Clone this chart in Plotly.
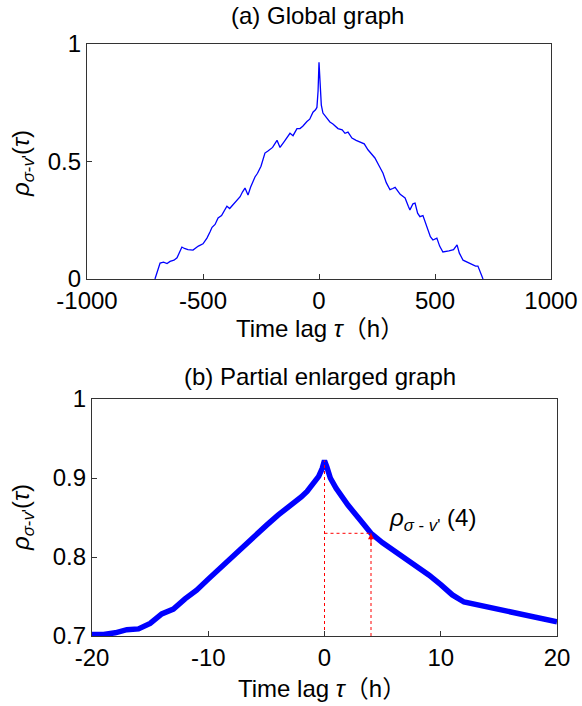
import plotly.graph_objects as go

# ---------- data ----------
TAU_A = [-707, -695, -685, -670, -655, -642, -625, -612, -600, -591, -580, -565, -543, -520, -500,
         -483, -470, -461, -448, -435, -420, -410, -397, -385, -371, -355, -340, -330, -319, -306,
         -295, -276, -265, -250, -240, -233, -220, -200, -181, -168, -150, -125, -112, -95, -82,
         -70, -52, -40, -26, -15, -9, -4, 0, 4, 10, 17, 30, 47, 60, 82, 100, 112, 125, 135, 142,
         160, 177, 195, 211, 225, 241, 260, 276, 290, 306, 318, 328, 350, 371, 385, 392, 405, 414,
         425, 435, 448, 465, 480, 491, 508, 520, 534, 560, 580, 595, 605, 621, 640, 659, 675, 685,
         695, 707]
RHO_A = [0.0, 0.04, 0.068, 0.072, 0.066, 0.075, 0.08, 0.09, 0.12, 0.136, 0.13, 0.125, 0.123, 0.14, 0.15,
         0.174, 0.20, 0.22, 0.232, 0.26, 0.27, 0.29, 0.31, 0.30, 0.315, 0.33, 0.35, 0.37, 0.387, 0.357,
         0.39, 0.434, 0.45, 0.48, 0.51, 0.536, 0.545, 0.56, 0.59, 0.56, 0.585, 0.62, 0.61, 0.64, 0.64,
         0.65, 0.67, 0.68, 0.71, 0.72, 0.73, 0.80, 0.922, 0.82, 0.74, 0.706, 0.69, 0.668, 0.66, 0.64, 0.635,
         0.62, 0.625, 0.61, 0.60, 0.59, 0.583, 0.575, 0.55, 0.535, 0.515, 0.48, 0.45, 0.41, 0.38, 0.385,
         0.39, 0.36, 0.345, 0.31, 0.294, 0.32, 0.323, 0.28, 0.265, 0.27, 0.22, 0.18, 0.166, 0.174, 0.14,
         0.115, 0.12, 0.125, 0.145, 0.11, 0.08, 0.07, 0.06, 0.055, 0.055, 0.03, 0.0]

TAU_B = [-20, -19, -18, -17, -16, -15.5, -15, -14, -13, -12, -11, -10, -9, -8, -7, -6, -5, -4, -3,
         -2, -1.5, -1, -0.5, -0.2, 0, 0.2, 0.5, 1, 1.5, 2, 3, 4, 5, 6, 7, 8, 9, 10, 11, 12, 13, 14, 15,
         16, 17, 18, 19, 20]
RHO_B = [0.702, 0.702, 0.704, 0.708, 0.709, 0.712, 0.716, 0.728, 0.734, 0.747, 0.758, 0.772, 0.786,
         0.800, 0.812, 0.826, 0.840, 0.853, 0.864, 0.876, 0.883, 0.892, 0.902, 0.912, 0.922, 0.914,
         0.900, 0.887, 0.876, 0.866, 0.848, 0.830, 0.818, 0.808, 0.797, 0.787, 0.777, 0.765, 0.752,
         0.743, 0.740, 0.737, 0.734, 0.731, 0.728, 0.724, 0.721, 0.718]

XTICKS_A = [-1000, -500, 0, 500, 1000]
XTICKTEXT_A = ["-1000", "-500", "0", "500", "1000"]
YTICKS_A = [0, 0.5, 1]
YTICKTEXT_A = ["0", "0.5", "1"]
XTICKS_B = [-20, -10, 0, 10, 20]
XTICKTEXT_B = ["-20", "-10", "0", "10", "20"]
YTICKS_B = [0.7, 0.8, 0.9, 1]
YTICKTEXT_B = ["0.7", "0.8", "0.9", "1"]

MARK_TAU = 4
TITLE_A = "(a) Global graph"
TITLE_B = "(b) Partial enlarged graph"
XTITLE = "Time lag <i>τ</i>（h）"
YTITLE = "<i>ρ</i><sub><i>σ</i>-<i>v</i>'</sub>(<i>τ</i>)"
LABEL_B = "<i>ρ</i><sub><i>σ</i> - <i>v</i>'</sub> (4)"

FONT = "Liberation Sans, Arial, Noto Sans CJK SC, sans-serif"
FS = 24

peak_rho = RHO_B[TAU_B.index(0)]
mark_rho = RHO_B[TAU_B.index(MARK_TAU)]
ybase = 0.7

fig = go.Figure()
fig.add_trace(go.Scatter(x=TAU_A, y=RHO_A, mode="lines", line=dict(color="#0000ff", width=1.3),
                         xaxis="x", yaxis="y", showlegend=False, hoverinfo="skip"))
fig.add_trace(go.Scatter(x=TAU_B, y=RHO_B, mode="lines", line=dict(color="#0000ff", width=5.5),
                         xaxis="x2", yaxis="y2", showlegend=False, hoverinfo="skip"))
red = dict(color="#ff0000", width=1, dash="dot")
fig.add_trace(go.Scatter(x=[0, 0], y=[ybase, peak_rho], mode="lines", line=red,
                         xaxis="x2", yaxis="y2", showlegend=False, hoverinfo="skip"))
fig.add_trace(go.Scatter(x=[0, MARK_TAU], y=[mark_rho, mark_rho], mode="lines", line=red,
                         xaxis="x2", yaxis="y2", showlegend=False, hoverinfo="skip"))
fig.add_trace(go.Scatter(x=[MARK_TAU, MARK_TAU], y=[ybase, mark_rho], mode="lines", line=red,
                         xaxis="x2", yaxis="y2", showlegend=False, hoverinfo="skip"))

ax_common = dict(showline=True, linecolor="#333333", linewidth=1.2, mirror=True, ticks="inside",
                 ticklen=5, tickcolor="#333333", showgrid=False, zeroline=False, automargin=False,
                 tickfont=dict(family=FONT, size=FS, color="black"))

fig.update_layout(
    width=582, height=706, margin=dict(l=0, r=0, t=0, b=0, autoexpand=False),
    paper_bgcolor="white", plot_bgcolor="white",
    font=dict(family=FONT, size=FS, color="black"),
    xaxis=dict(domain=[87 / 582, 551 / 582], range=[-1000, 1000], tickvals=XTICKS_A,
               ticktext=XTICKTEXT_A, anchor="y", **ax_common),
    yaxis=dict(domain=[1 - 279 / 706, 1 - 44 / 706], range=[0, 1], tickvals=YTICKS_A,
               ticktext=YTICKTEXT_A, anchor="x", **ax_common),
    xaxis2=dict(domain=[92 / 582, 557 / 582], range=[-20, 20], tickvals=XTICKS_B,
                ticktext=XTICKTEXT_B, anchor="y2", **ax_common),
    yaxis2=dict(domain=[1 - 636 / 706, 1 - 399 / 706], range=[0.7, 1], tickvals=YTICKS_B,
                ticktext=YTICKTEXT_B, anchor="x2", **ax_common),
)

ann = [
    dict(text=TITLE_A, x=318 / 582, y=1 - 16 / 706),
    dict(text=TITLE_B, x=320 / 582, y=1 - 376 / 706),
    dict(text=XTITLE, x=320 / 582, y=1 - 328 / 706),
    dict(text=XTITLE, x=322 / 582, y=1 - 688 / 706),
    dict(text=YTITLE, x=22 / 582, y=1 - 164 / 706, textangle=-90),
    dict(text=YTITLE, x=22 / 582, y=1 - 518 / 706, textangle=-90),
]
for a in ann:
    fig.add_annotation(xref="paper", yref="paper", showarrow=False, xanchor="center", yanchor="middle",
                       font=dict(family=FONT, size=FS, color="black"), **a)

fig.add_annotation(xref="x2", yref="y2", x=9.3, y=0.847, text=LABEL_B, showarrow=False,
                   font=dict(family=FONT, size=FS, color="black"))
fig.add_annotation(xref="x2", yref="y2", x=MARK_TAU, y=mark_rho, ax=0, ay=14, showarrow=True,
                   arrowhead=2, arrowsize=1.2, arrowwidth=1, arrowcolor="#ff0000", text="")

fig.write_html("out.html")
